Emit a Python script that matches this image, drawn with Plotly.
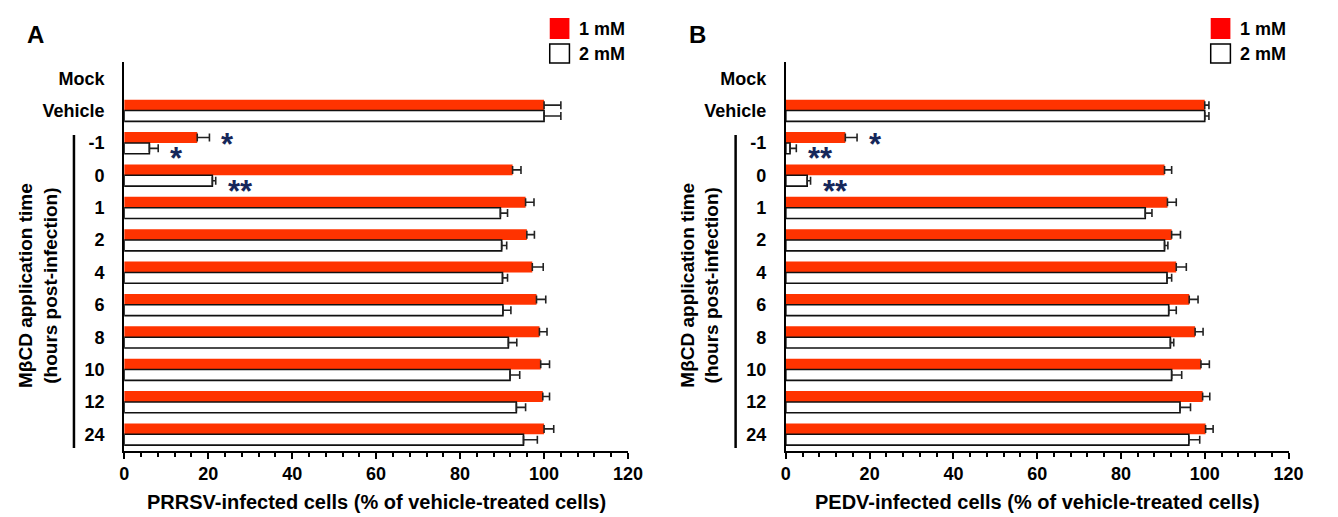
import plotly.graph_objects as go

# ---------------- data ----------------
categories = ["Mock", "Vehicle", "-1", "0", "1", "2", "4", "6", "8", "10", "12", "24"]

prrsv_1mM = [None, 100.0, 17.4, 92.5, 95.6, 95.9, 97.2, 98.2, 98.9, 99.2, 99.7, 100.0]
prrsv_1mM_err = [0, 4.0, 2.9, 2.0, 2.0, 1.8, 2.6, 2.2, 1.8, 2.1, 1.6, 2.3]
prrsv_2mM = [None, 100.0, 6.0, 21.0, 89.6, 89.9, 90.1, 90.2, 91.5, 91.9, 93.4, 95.1]
prrsv_2mM_err = [0, 4.0, 2.1, 0.8, 1.7, 1.2, 1.2, 1.9, 2.0, 2.3, 2.2, 3.3]
prrsv_1mM_sig = ["", "", "*", "", "", "", "", "", "", "", "", ""]
prrsv_2mM_sig = ["", "", "*", "**", "", "", "", "", "", "", "", ""]

pedv_1mM = [None, 100.0, 14.2, 90.4, 91.1, 92.1, 93.2, 96.3, 97.7, 99.1, 99.5, 100.2]
pedv_1mM_err = [0, 1.0, 2.8, 1.7, 2.1, 2.1, 2.4, 2.1, 1.9, 2.0, 1.7, 1.8]
pedv_2mM = [None, 100.0, 1.0, 5.1, 85.8, 90.4, 91.0, 91.4, 91.8, 92.1, 94.1, 96.2]
pedv_2mM_err = [0, 1.0, 1.5, 0.8, 1.6, 0.8, 1.1, 1.8, 0.8, 2.4, 2.5, 2.6]
pedv_1mM_sig = ["", "", "*", "", "", "", "", "", "", "", "", ""]
pedv_2mM_sig = ["", "", "**", "**", "", "", "", "", "", "", "", ""]

series_names = ["1 mM", "2 mM"]
x_ticks = [0, 20, 40, 60, 80, 100, 120]
x_titles = ["PRRSV-infected cells (% of vehicle-treated cells)",
            "PEDV-infected cells (% of vehicle-treated cells)"]
y_title = "MβCD application time<br>(hours post-infection)"
panel_letters = ["A", "B"]

# ---------------- styling ----------------
W, H = 1338, 517
FONT = "Liberation Sans, Arial, sans-serif"
RED = "#FF3300"
LEG_RED = "#FF0000"
STAR = "#16275a"


def px(x):
    return x / W


def py(y):
    return (H - y) / H


fig = go.Figure()

panels = [
    (prrsv_1mM, prrsv_1mM_err, prrsv_2mM, prrsv_2mM_err, prrsv_1mM_sig, prrsv_2mM_sig),
    (pedv_1mM, pedv_1mM_err, pedv_2mM, pedv_2mM_err, pedv_1mM_sig, pedv_2mM_sig),
]
axis_left = [121.0, 792.7]
axis_right = [632.5, 1303.0]
legend_left = [553, 1224]

annotations = []
shapes = []

for i, (v1, e1, v2, e2, s1, s2) in enumerate(panels):
    xa = "x" if i == 0 else "x2"
    ya = "y" if i == 0 else "y2"
    n = len(categories)
    fig.add_trace(go.Bar(
        y=categories, x=v1, orientation="h", name=series_names[0],
        marker=dict(color=RED, line=dict(width=0)),
        error_x=dict(type="data", symmetric=False, array=e1, arrayminus=[0] * n,
                     color="#222222", thickness=1.6, width=4),
        xaxis=xa, yaxis=ya, showlegend=False,
    ))
    fig.add_trace(go.Bar(
        y=categories, x=v2, orientation="h", name=series_names[1],
        marker=dict(color="white", line=dict(color="#111111", width=1.6)),
        error_x=dict(type="data", symmetric=False, array=e2, arrayminus=[0] * n,
                     color="#222222", thickness=1.6, width=4),
        xaxis=xa, yaxis=ya, showlegend=False,
    ))

    # significance stars (y given as category index)
    for vals, errs, sigs, ysh in ((v1, e1, s1, -1.5), (v2, e2, s2, -16)):
        for idx, (v, e, s) in enumerate(zip(vals, errs, sigs)):
            if s:
                annotations.append(dict(
                    x=v + e, y=idx, xref=xa, yref=ya, text=s, showarrow=False,
                    xanchor="left", yanchor="middle", xshift=10, yshift=ysh,
                    font=dict(family=FONT, size=31, color=STAR, weight="bold"),
                ))

    off = axis_left[i] - axis_left[0]
    # x title
    annotations.append(dict(
        x=px((axis_left[i] + axis_right[i]) / 2), y=py(502), xref="paper", yref="paper",
        text=x_titles[i], showarrow=False, xanchor="center", yanchor="middle",
        font=dict(family=FONT, size=20, color="black", weight="bold"),
    ))
    # y title
    annotations.append(dict(
        x=px(33.5 + off), y=py(285), xref="paper", yref="paper",
        text=y_title, showarrow=False, textangle=-90,
        xanchor="center", yanchor="middle",
        font=dict(family=FONT, size=19, color="black", weight="bold"),
    ))
    # panel letter
    annotations.append(dict(
        x=px(31 + off), y=py(35), xref="paper", yref="paper",
        text=panel_letters[i], showarrow=False, xanchor="center", yanchor="middle",
        font=dict(family=FONT, size=24, color="black", weight="bold"),
    ))
    # bracket
    shapes.append(dict(type="line", xref="paper", yref="paper",
                       x0=px(70 + off), x1=px(70 + off), y0=py(448), y1=py(135),
                       line=dict(color="black", width=2.5)))
    # legend
    lx = legend_left[i]
    shapes.append(dict(type="rect", xref="paper", yref="paper",
                       x0=px(lx), x1=px(lx + 20), y0=py(39), y1=py(18),
                       fillcolor=LEG_RED, line=dict(width=0)))
    shapes.append(dict(type="rect", xref="paper", yref="paper",
                       x0=px(lx), x1=px(lx + 20), y0=py(63), y1=py(44),
                       fillcolor="white", line=dict(color="black", width=1.5)))
    for k, yy in enumerate([29, 54]):
        annotations.append(dict(
            x=px(lx + 28), y=py(yy), xref="paper", yref="paper",
            text=series_names[k], showarrow=False, xanchor="left", yanchor="middle",
            font=dict(family=FONT, size=18, color="black", weight="bold"),
        ))

xaxis_common = dict(
    range=[0, 120], tickvals=x_ticks, showline=True, linewidth=2, linecolor="black",
    ticks="outside", ticklen=6, tickwidth=2, tickcolor="black",
    minor=dict(dtick=4, ticks="outside", ticklen=4, tickwidth=2, tickcolor="black"),
    showgrid=False, zeroline=False,
    tickfont=dict(family=FONT, size=18, color="black", weight="bold"),
)
yaxis_common = dict(
    type="category", categoryorder="array", categoryarray=categories,
    range=[len(categories) - 0.5, -0.5], showline=True, linewidth=2, linecolor="black",
    ticks="", showgrid=False, zeroline=False, ticklabelstandoff=14,
    tickfont=dict(family=FONT, size=18, color="black", weight="bold"),
    domain=[py(450.5), py(62)],
)

fig.update_layout(
    width=W, height=H, margin=dict(l=0, r=0, t=0, b=0),
    paper_bgcolor="white", plot_bgcolor="white",
    barmode="group", bargap=0.33, bargroupgap=0,
    xaxis=dict(domain=[px(axis_left[0]), px(axis_right[0])], anchor="y", **xaxis_common),
    xaxis2=dict(domain=[px(axis_left[1]), px(axis_right[1])], anchor="y2", **xaxis_common),
    yaxis=dict(anchor="x", **yaxis_common),
    yaxis2=dict(anchor="x2", **yaxis_common),
    annotations=annotations, shapes=shapes, showlegend=False,
    font=dict(family=FONT, color="black"),
)

fig.write_html("out.html")
